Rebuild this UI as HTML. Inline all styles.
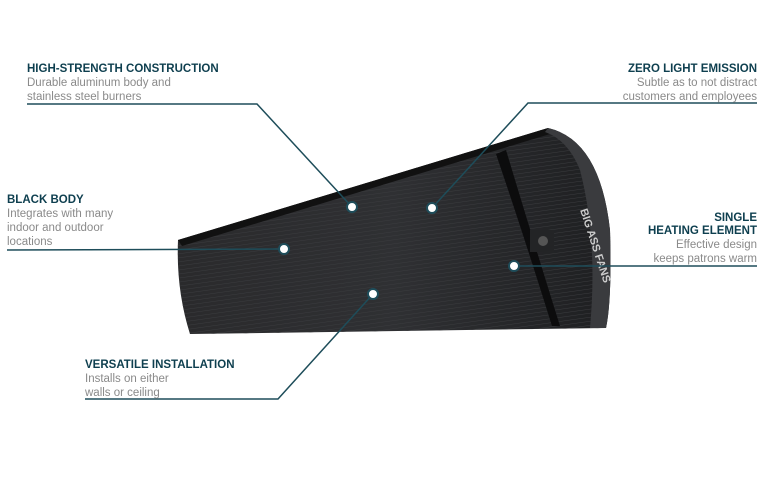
<!DOCTYPE html>
<html><head><meta charset="utf-8"><style>
html,body{margin:0;padding:0;background:#fff;}
body{width:770px;height:500px;position:relative;overflow:hidden;font-family:"Liberation Sans",sans-serif;}
.t{position:absolute;font-size:11.5px;line-height:14px;color:#8a8a8a;}
.t b{display:block;color:#0e3f4f;font-size:11.5px;line-height:13px;font-weight:bold;}
.r{text-align:right;}
</style></head><body>
<svg width="770" height="500" style="position:absolute;left:0;top:0">
<defs>
<linearGradient id="g" x1="0" y1="0" x2="1" y2="0">
<stop offset="0" stop-color="#2a2a2c"/><stop offset="0.5" stop-color="#2f3033"/><stop offset="1" stop-color="#1e1f21"/></linearGradient>
<pattern id="p" width="6" height="4" patternUnits="userSpaceOnUse" patternTransform="rotate(-8)">
<rect width="6" height="4" fill="none"/><line x1="0" y1="0" x2="6" y2="0" stroke="#3b3c3f" stroke-width="1"/></pattern>
</defs>
<path d="M178 240 L548 128 Q600 140 610 230 Q612 300 606 328 L190 334 Q176 290 178 240 Z" fill="url(#g)"/>
<path d="M178 240 L548 128 Q600 140 610 230 Q612 300 606 328 L190 334 Q176 290 178 240 Z" fill="url(#p)"/>
<path d="M178 240 L548 128 L550 134 L182 246 Z" fill="#111"/>
<path d="M496 154 Q522 230 552 326 L560 326 Q530 230 506 150 Z" fill="#0c0c0d"/>
<path d="M548 128 Q600 140 610 230 Q612 300 606 328 L590 328 Q598 240 580 170 Q568 140 545 132 Z" fill="#3a3b3e"/>
<rect x="530" y="230" width="24" height="22" fill="#232426"/>
<circle cx="543" cy="241" r="5" fill="#555"/>
<text x="580" y="210" transform="rotate(72 580 210)" fill="#ccc" font-size="11" font-weight="bold" font-family="Liberation Sans">BIG ASS FANS</text>
<g stroke="#1e4d5a" stroke-width="1.5" fill="none">
<polyline points="27,104 257,104 352,207"/>
<polyline points="757,103 528,103 432,208"/>
<polyline points="7,250 284,249"/>
<polyline points="757,266 514,266"/>
<polyline points="85,399 278,399 373,294"/>
</g>
<g fill="#fff" stroke="#1e4d5a" stroke-width="2">
<circle cx="352" cy="207" r="5"/><circle cx="432" cy="208" r="5"/><circle cx="284" cy="249" r="5"/><circle cx="514" cy="266" r="5"/><circle cx="373" cy="294" r="5"/>
</g>
</svg>
<div class="t" style="left:27px;top:63px"><b>HIGH-STRENGTH CONSTRUCTION</b>Durable aluminum body and<br>stainless steel burners</div>
<div class="t r" style="right:13px;top:63px"><b>ZERO LIGHT EMISSION</b>Subtle as to not distract<br>customers and employees</div>
<div class="t" style="left:7px;top:194px"><b>BLACK BODY</b>Integrates with many<br>indoor and outdoor<br>locations</div>
<div class="t r" style="right:13px;top:212px"><b>SINGLE<br>HEATING ELEMENT</b>Effective design<br>keeps patrons warm</div>
<div class="t" style="left:85px;top:359px"><b>VERSATILE INSTALLATION</b>Installs on either<br>walls or ceiling</div>
</body></html>
